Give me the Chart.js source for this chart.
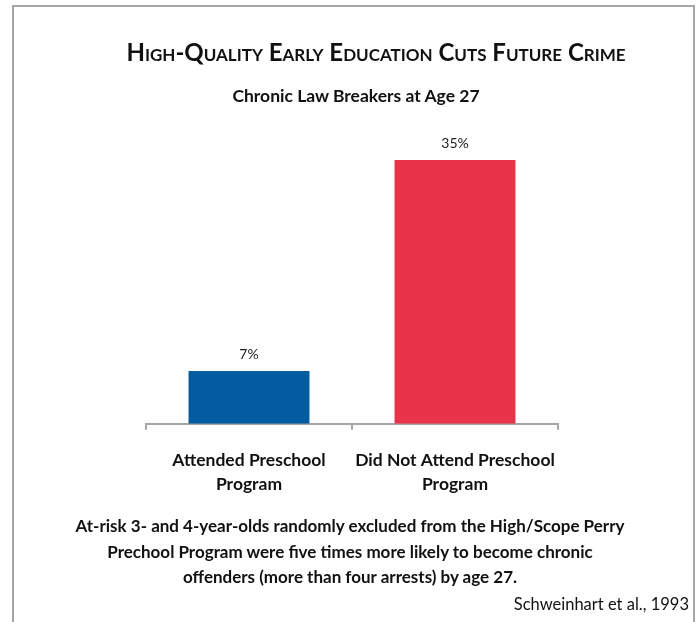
<!DOCTYPE html>
<html>
<head>
<meta charset="utf-8">
<script src="https://cdn.jsdelivr.net/npm/chart.js@4.4.1/dist/chart.umd.min.js"></script>
<style>
  html, body { margin: 0; padding: 0; background: #fff; }
  body { width: 699px; height: 622px; position: relative; overflow: hidden; font-family: Lato, "Open Sans", sans-serif; color: #111; }
  #frame { position: absolute; left: 12px; top: 5px; width: 679px; height: 700px; border: 2px solid #a6a6a6; border-bottom: none; }
  #skillsChart { position: absolute; left: 0; top: 0; }
  .txt { position: absolute; white-space: nowrap; text-align: center; line-height: 1.2; }
  #title { left: 76px; width: 600px; top: 38px; font-size: 24px; font-weight: bold; font-variant: small-caps; }
  #subtitle { left: 56px; width: 600px; top: 85px; font-size: 17.5px; font-weight: bold; }
  #caption { left: 50px; width: 600px; top: 513px; font-size: 17px; font-weight: bold; line-height: 25.5px; }
  #source { right: 10px; top: 595px; font-size: 16.5px; text-align: right; }
</style>
</head>
<body>
<div id="frame"></div>
<canvas id="skillsChart" width="699" height="622"></canvas>
<div class="txt" id="title">High-Quality Early Education Cuts Future Crime</div>
<div class="txt" id="subtitle">Chronic Law Breakers at Age 27</div>
<div class="txt" id="caption">At-risk 3- and 4-year-olds randomly excluded from the High/Scope Perry<br>Prechool Program were five times more likely to become chronic<br>offenders (more than four arrests) by age 27.</div>
<div class="txt" id="source">Schweinhart et al., 1993</div>
<script>
const categories = [['Attended Preschool', 'Program'], ['Did Not Attend Preschool', 'Program']];
const values = [7, 35];
const barColors = ['#045ca0', '#e8334a'];

const valueLabels = {
    id: 'valueLabels',
    afterDatasetsDraw(chart) {
        const ctx = chart.ctx;
        const meta = chart.getDatasetMeta(0);
        ctx.save();
        ctx.font = '14px Lato';
        ctx.fillStyle = '#222';
        ctx.textAlign = 'center';
        meta.data.forEach(function(bar, i) {
            ctx.fillText(values[i] + '%', bar.x, bar.y - 12);
        });
        ctx.restore();
    }
};

document.addEventListener('DOMContentLoaded', function() {
    const ctx = document.getElementById('skillsChart');
    new Chart(ctx, {
        type: 'bar',
        data: {
            labels: categories,
            datasets: [{
                data: values,
                backgroundColor: barColors,
                borderWidth: 0,
                categoryPercentage: 1,
                barPercentage: 0.587
            }]
        },
        options: {
            responsive: false,
            animation: false,
            layout: {
                padding: { left: 146, right: 141, top: 160, bottom: 107 }
            },
            scales: {
                y: {
                    display: false,
                    min: 0,
                    max: 35
                },
                x: {
                    grid: {
                        offset: true,
                        drawOnChartArea: false,
                        drawTicks: true,
                        tickLength: 6,
                        color: '#a6a6a6',
                        lineWidth: 2
                    },
                    border: {
                        color: '#a6a6a6',
                        width: 2
                    },
                    ticks: {
                        color: '#111',
                        maxRotation: 0,
                        padding: 19,
                        font: { family: 'Lato', size: 17.5, weight: 'bold', lineHeight: 1.35 }
                    }
                }
            },
            plugins: {
                legend: { display: false },
                tooltip: { enabled: false }
            }
        },
        plugins: [valueLabels]
    });
});
</script>
</body>
</html>
